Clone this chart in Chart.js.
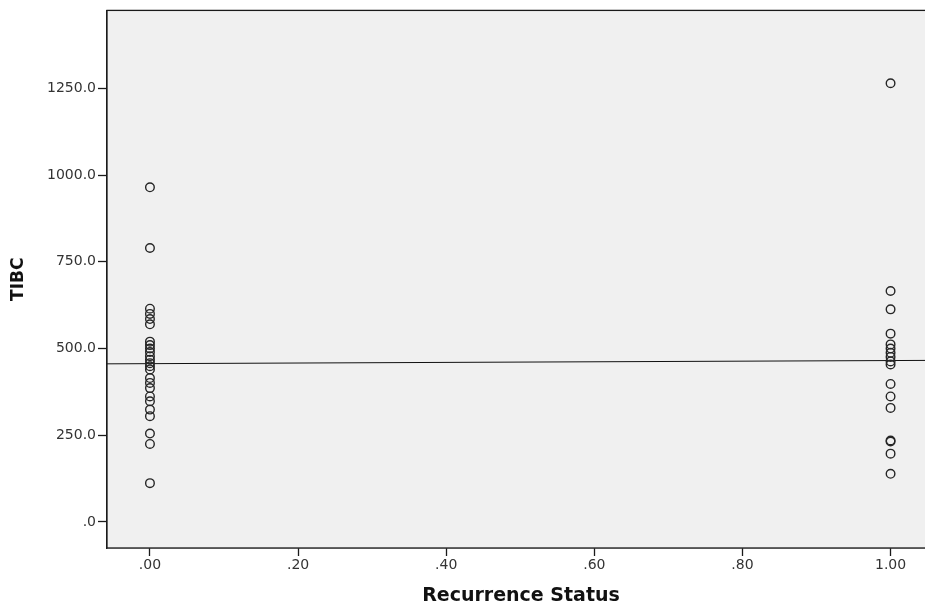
<!DOCTYPE html>
<html>
<head>
<meta charset="utf-8">
<script src="https://cdn.jsdelivr.net/npm/chart.js@4/dist/chart.umd.min.js"></script>
<style>
  html, body { margin: 0; padding: 0; background: #fff; overflow: hidden; }
  #wrap { width: 960px; height: 606px; }
</style>
</head>
<body>
<div id="wrap"><canvas id="chart" width="960" height="606"></canvas></div>
<script>
// TIBC values by recurrence status
const noRecurrenceTIBC = [965, 790, 615, 600, 585, 570, 520, 510, 500, 490, 478, 468, 458, 449, 440, 415, 401, 386, 362, 348, 324, 305, 255, 225, 112];
const recurrenceTIBC = [1265, 666, 613, 543, 512, 500, 488, 476, 463, 454, 398, 362, 329, 235, 232, 197, 139];
const statusValues = [0, 1];

// fit line, read at the two edges of the plot
const fitX = [-0.058, 1.06];
const fitY = [456, 466];

const xTicks = [0, 0.2, 0.4, 0.6, 0.8, 1.0];
const yTicks = [0, 250, 500, 750, 1000, 1250];

const points = [];
noRecurrenceTIBC.forEach(v => points.push({ x: statusValues[0], y: v }));
recurrenceTIBC.forEach(v => points.push({ x: statusValues[1], y: v }));

// Fill the plot area grey and frame it
const plotFrame = {
  id: 'plotFrame',
  beforeDatasetsDraw(chart) {
    const { ctx, chartArea: a } = chart;
    ctx.save();
    ctx.fillStyle = '#f0f0f0';
    ctx.fillRect(a.left, a.top, a.right - a.left, a.bottom - a.top);
    ctx.restore();
  },
  afterDraw(chart) {
    const { ctx, chartArea: a } = chart;
    ctx.save();
    ctx.strokeStyle = '#1a1a1a';
    ctx.lineWidth = 1.3;
    ctx.strokeRect(a.left, a.top, a.right - a.left, a.bottom - a.top);
    ctx.restore();
  }
};

const tickFont = { family: '"DejaVu Sans", sans-serif', size: 14 };
const yTitleFont = { family: '"DejaVu Sans", sans-serif', size: 17, weight: 'bold' };
const xTitleFont = { family: '"DejaVu Sans", sans-serif', size: 19, weight: 'bold' };

new Chart(document.getElementById('chart').getContext('2d'), {
  type: 'scatter',
  data: {
    datasets: [
      {
        label: 'TIBC',
        data: points,
        pointRadius: 4.3,
        pointHoverRadius: 4.3,
        pointBorderWidth: 1.4,
        borderColor: '#262626',
        backgroundColor: 'rgba(0,0,0,0)'
      },
      {
        type: 'line',
        label: 'Fit',
        data: fitX.map((x, i) => ({ x: x, y: fitY[i] })),
        borderColor: '#111',
        borderWidth: 1,
        pointRadius: 0,
        fill: false
      }
    ]
  },
  options: {
    responsive: false,
    animation: false,
    layout: { padding: { top: 10, right: 25, left: 0, bottom: 0 } },
    plugins: { legend: { display: false }, tooltip: { enabled: false } },
    scales: {
      x: {
        type: 'linear',
        min: -0.058,
        max: 1.06,
        afterBuildTicks: s => { s.ticks = xTicks.map(v => ({ value: v })); },
        afterFit: s => { s.height = 58; },
        grid: { drawOnChartArea: false, drawTicks: true, tickLength: 8, color: '#1a1a1a', tickWidth: 1.3 },
        border: { display: true, color: '#1a1a1a', width: 1.3 },
        ticks: {
          color: '#333',
          font: tickFont,
          padding: 1,
          maxRotation: 0,
          callback: v => v.toFixed(2).replace(/^0\./, '.')
        },
        title: { display: true, text: 'Recurrence Status', color: '#111', font: xTitleFont, padding: { top: 0, bottom: -1 } }
      },
      y: {
        type: 'linear',
        min: -75,
        max: 1475,
        afterBuildTicks: s => { s.ticks = yTicks.map(v => ({ value: v })); },
        afterFit: s => { s.width = 107; },
        grid: { drawOnChartArea: false, drawTicks: true, tickLength: 9, color: '#1a1a1a', tickWidth: 1.3 },
        border: { display: true, color: '#1a1a1a', width: 1.3 },
        ticks: {
          color: '#333',
          font: tickFont,
          padding: 2,
          callback: v => v.toFixed(1).replace(/^0\./, '.')
        },
        title: { display: true, text: 'TIBC', color: '#111', font: yTitleFont, padding: { top: 8, bottom: 0 } }
      }
    }
  },
  plugins: [plotFrame]
});
</script>
</body>
</html>
